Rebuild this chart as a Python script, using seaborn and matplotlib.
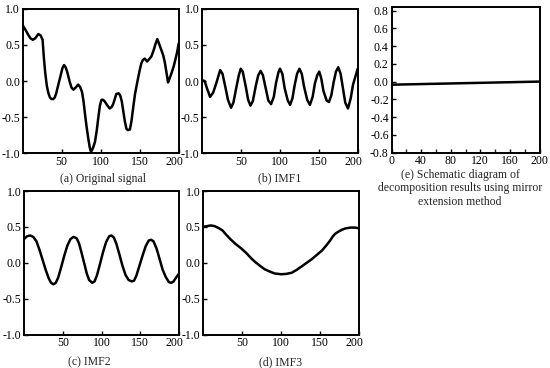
import numpy as np
import pandas as pd
import matplotlib
matplotlib.use("Agg")
import matplotlib.pyplot as plt
import matplotlib.transforms as mtransforms
import seaborn as sns
from matplotlib.ticker import MultipleLocator

# ---------------- data ----------------
sig_t = [0, 4, 7, 10, 13, 16, 20, 23, 25.5, 27.3, 29, 31, 33, 35, 37, 39, 41, 43, 45, 48,
         51, 53, 55, 57, 60, 62.5, 65, 68, 71, 73.5, 76, 78, 80, 82, 84, 86, 87.6, 90,
         92.7, 95, 97, 99, 101, 103, 105, 108, 111.5, 114, 116, 118, 120, 123, 125, 127,
         129, 131, 133, 135, 137.5, 139.5, 141.5, 144, 147, 150, 152, 154, 156.5, 159.5,
         162, 165, 168, 170.5, 172.6, 175, 177.7, 180, 182, 184, 186.3, 188.5, 191.4,
         193.5, 195.6, 198, 200]
sig_v = [0.77, 0.70, 0.64, 0.59, 0.57, 0.59, 0.65, 0.63, 0.57, 0.30, 0.10, -0.07, -0.17,
         -0.23, -0.25, -0.25, -0.23, -0.17, -0.08, 0.05, 0.18, 0.22, 0.19, 0.13, 0.00,
         -0.09, -0.12, -0.09, -0.05, -0.08, -0.15, -0.28, -0.47, -0.64, -0.79, -0.92,
         -0.98, -0.93, -0.84, -0.68, -0.50, -0.34, -0.26, -0.26, -0.28, -0.33, -0.38,
         -0.36, -0.32, -0.25, -0.18, -0.17, -0.20, -0.28, -0.42, -0.56, -0.66, -0.68,
         -0.67, -0.55, -0.38, -0.18, -0.01, 0.15, 0.24, 0.29, 0.31, 0.27, 0.30, 0.34,
         0.43, 0.52, 0.58, 0.51, 0.43, 0.36, 0.27, 0.14, -0.02, 0.04, 0.13, 0.20, 0.29,
         0.40, 0.52]

imf1_t = [0, 3, 6, 10, 14, 18, 23, 26, 30, 33, 37, 40, 44, 47, 49.5, 52, 56, 59, 62, 65,
          69, 72, 75, 78, 82, 85, 88.5, 92, 95, 98, 100, 103, 106, 110, 113, 116, 119,
          122, 125, 128, 131, 135, 138.5, 142, 145, 148, 150.5, 153, 156, 160, 163, 166,
          169, 172, 175, 178, 181, 184, 187.5, 191, 194, 197, 200]
imf1_v = [0.01, 0.0, -0.10, -0.22, -0.16, -0.03, 0.15, 0.10, -0.10, -0.26, -0.37, -0.30,
          -0.08, 0.08, 0.17, 0.13, -0.08, -0.26, -0.34, -0.28, -0.06, 0.08, 0.14, 0.08,
          -0.12, -0.27, -0.32, -0.22, -0.02, 0.12, 0.17, 0.10, -0.10, -0.27, -0.33, -0.24,
          -0.05, 0.10, 0.17, 0.10, -0.08, -0.26, -0.33, -0.22, -0.03, 0.08, 0.13, 0.04,
          -0.14, -0.27, -0.29, -0.20, -0.02, 0.13, 0.19, 0.10, -0.10, -0.30, -0.38, -0.24,
          -0.05, 0.06, 0.17]

imf2_t = [0, 4, 8, 12, 16, 20, 24, 28, 32, 35, 38, 41, 44, 48, 52, 56, 60, 64, 68, 71, 74,
          78, 81, 84, 88, 91, 94, 98, 102, 106, 110, 113, 116, 119, 123, 127, 131, 135,
          139, 142, 145, 149, 153, 157, 161, 164, 167, 171, 175, 179, 183, 187, 190, 193,
          196, 200]
imf2_v = [0.33, 0.37, 0.38, 0.36, 0.30, 0.18, 0.04, -0.10, -0.22, -0.28, -0.30, -0.28,
          -0.21, -0.06, 0.10, 0.24, 0.33, 0.36, 0.34, 0.27, 0.15, -0.02, -0.15, -0.24,
          -0.28, -0.26, -0.18, -0.02, 0.15, 0.29, 0.37, 0.38, 0.35, 0.27, 0.12, -0.04,
          -0.17, -0.24, -0.26, -0.25, -0.18, -0.04, 0.10, 0.23, 0.31, 0.32, 0.30, 0.20,
          0.05, -0.10, -0.20, -0.27, -0.28, -0.26, -0.21, -0.15]

imf3_t = [0, 5, 10, 15, 20.7, 25, 29, 35, 42, 49, 56, 62, 68, 74, 79, 85, 92, 100.6, 107,
          113.6, 120, 126.6, 133, 139.5, 146, 152.5, 158, 163, 166, 169, 173, 178, 183,
          189, 195, 200]
imf3_v = [0.50, 0.51, 0.52, 0.51, 0.48, 0.45, 0.40, 0.33, 0.26, 0.20, 0.13, 0.06, 0.0,
          -0.05, -0.09, -0.12, -0.15, -0.16, -0.155, -0.14, -0.10, -0.05, 0.0, 0.05,
          0.11, 0.17, 0.24, 0.31, 0.36, 0.40, 0.43, 0.46, 0.48, 0.49, 0.49, 0.48]

res_t = [0, 200]
res_v = [-0.035, 0.0]

imf_xticks = [50, 100, 150, 200]
imf_yticks = [-1.0, -0.5, 0.0, 0.5, 1.0]
res_xticks = [0, 40, 80, 120, 160, 200]
res_yticks = [-0.8, -0.6, -0.4, -0.2, 0.0, 0.2, 0.4, 0.6, 0.8]

captions = ["(a) Original signal", "(b) IMF1", "(c) IMF2", "(d) IMF3",
            "(e) Schematic diagram of\ndecomposition results using mirror\nextension method"]

# ---------------- style ----------------
sns.set_style("ticks")
plt.rcParams['font.family'] = ['Liberation Serif', 'DejaVu Serif']
plt.rcParams['font.size'] = 8.5

W, H = 550, 368
fig = plt.figure(figsize=(W / 100, H / 100), dpi=100)


def add_ax(left, right, top, bottom):
    return fig.add_axes([left / W, 1 - bottom / H, (right - left) / W, (bottom - top) / H])


def style(ax, xticks, yticks, xlim, ylim, fmt):
    ax.set_xlim(*xlim)
    ax.set_ylim(*ylim)
    ax.set_xticks(xticks)
    ax.set_xticklabels([str(v) for v in xticks])
    ax.set_yticks(yticks)
    ax.set_yticklabels([fmt.format(v) for v in yticks])
    ax.set_xlabel("")
    ax.set_ylabel("")
    ax.tick_params(direction='in', length=3, width=1, pad=2, labelsize=8.5,
                   top=False, right=False, colors='black')
    for s in ax.spines.values():
        s.set_visible(True)
        s.set_linewidth(1.4)
        s.set_color('black')


panels = [
    (sig_t, sig_v, (22.7, 178.7, 8.7, 153.3)),
    (imf1_t, imf1_v, (202.3, 357.7, 8.7, 153.3)),
    (imf2_t, imf2_v, (24, 179, 191, 334.5)),
    (imf3_t, imf3_v, (203, 359, 191, 334.5)),
]

for t, v, box in panels:
    ax = add_ax(*box)
    df = pd.DataFrame({"t": t, "v": v})
    sns.lineplot(data=df, x="t", y="v", ax=ax, color="black", linewidth=1.8)
    style(ax, imf_xticks, imf_yticks, (0, 200), (-1.0, 1.0), "{:.1f}")
    # the last x label sits slightly to the left in the reference
    lab = ax.get_xticklabels()[-1]
    lab.set_transform(lab.get_transform() +
                      mtransforms.ScaledTranslation(-0.045, 0, fig.dpi_scale_trans))

ax_e = add_ax(391.5, 539.5, 6.7, 152.5)
dfe = pd.DataFrame({"t": res_t, "v": res_v})
sns.lineplot(data=dfe, x="t", y="v", ax=ax_e, color="black", linewidth=1.8)
style(ax_e, res_xticks, res_yticks, (0, 200), (-0.8, 0.845), "{:.1f}")
ax_e.xaxis.set_minor_locator(MultipleLocator(20))
ax_e.tick_params(which='minor', direction='in', length=3, width=1, top=False, right=False)

# captions
cap_pos = [(103, 179), (280, 178), (89, 362), (281, 362)]
for (x, y), c in zip(cap_pos, captions[:4]):
    fig.text(x / W, 1 - y / H, c, ha='center', va='center', fontsize=8.5)
fig.text(460 / W, 1 - 188.5 / H, captions[4], ha='center', va='center',
         fontsize=8.5, linespacing=1.2, multialignment='center')

fig.savefig("out.png", dpi=100)
